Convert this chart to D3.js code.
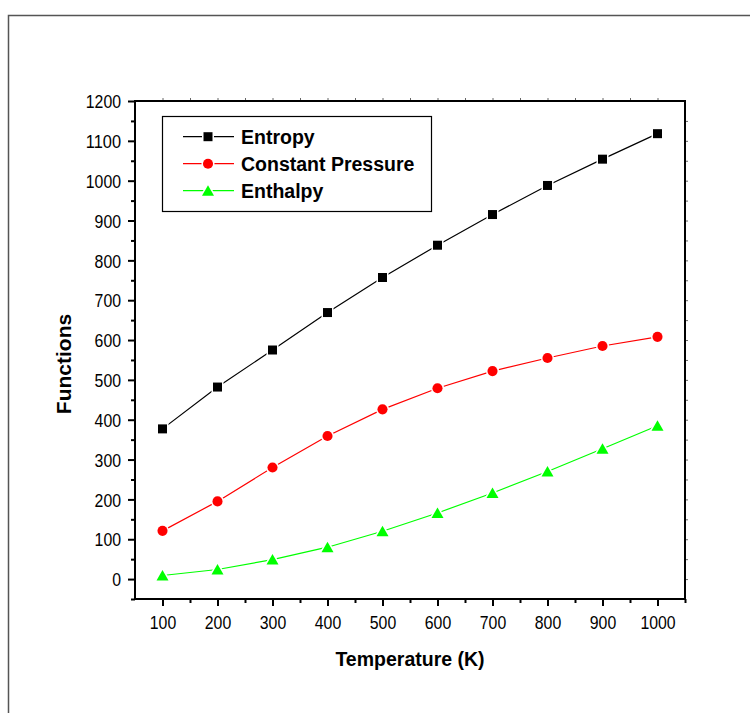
<!DOCTYPE html>
<html>
<head>
<meta charset="utf-8">
<script src="https://cdn.jsdelivr.net/npm/d3@7"></script>
<style>
  html, body { margin: 0; padding: 0; background: #fff; }
  svg { display: block; }
  .tick-label { font-family: "Liberation Sans", Arial, sans-serif; font-size: 18.5px; fill: #000; }
  .title { font-family: "Liberation Sans", Arial, sans-serif; font-weight: bold; fill: #000; }
</style>
</head>
<body>
<svg id="chart"></svg>
<script>
const SIZE = { width: 750, height: 713 }
const PLOT = { left: 135, right: 685, top: 101, bottom: 599 }

// values
const temperature = [100, 200, 300, 400, 500, 600, 700, 800, 900, 1000]
const entropy = [377, 482, 575, 669, 757, 838, 915, 988, 1054, 1118]
const constantPressure = [121, 195, 280, 359, 426, 479, 522, 555, 585, 608]
const enthalpy = [9, 24, 49, 80, 120, 166, 216, 270, 327, 385]

const seriesNames = ['Entropy', 'Constant Pressure', 'Enthalpy']
const seriesValues = [entropy, constantPressure, enthalpy]
const seriesColors = ['#000000', '#ff0000', '#00ff00']
const seriesShapes = ['square', 'circle', 'triangle']

const xTicks = d3.range(100, 1001, 100)
const xMinorTicks = d3.range(150, 1051, 100)
const yTicks = d3.range(0, 1201, 100)
const yMinorTicks = d3.range(-50, 1151, 100)

const svg = d3.select('#chart')
  .attr('width', SIZE.width)
  .attr('height', SIZE.height)

const x = d3.scaleLinear().domain([50, 1050]).range([PLOT.left, PLOT.right])
const y = d3.scaleLinear().domain([-50, 1200]).range([PLOT.bottom, PLOT.top])

// outer page frame (only top and left show inside the window)
svg.append('rect')
  .attr('x', 8.5).attr('y', 15.5)
  .attr('width', 800).attr('height', 800)
  .attr('fill', 'none')
  .attr('stroke', '#555')
  .attr('stroke-width', 1.5)

// axes
function styleAxis(g, width, color) {
  g.select('.domain').remove()
  g.selectAll('.tick line').attr('stroke', color).attr('stroke-width', width)
  g.selectAll('.tick text')
    .attr('class', 'tick-label')
    .attr('fill', '#000')
    .attr('font-size', null)
    .attr('font-family', null)
    // the reference digits are narrow, squeeze them a bit
    .attr('textLength', function () { return this.textContent.length * 8.8 })
    .attr('lengthAdjust', 'spacingAndGlyphs')
}

svg.append('g')
  .attr('transform', `translate(0,${PLOT.bottom})`)
  .call(d3.axisBottom(x).tickValues(xTicks).tickSize(7).tickPadding(10).tickFormat(d3.format('d')))
  .call(g => styleAxis(g, 2, '#000'))

svg.append('g')
  .attr('transform', `translate(0,${PLOT.bottom})`)
  .call(d3.axisBottom(x).tickValues(xMinorTicks).tickSize(4).tickFormat(''))
  .call(g => styleAxis(g, 2, '#000'))

svg.append('g')
  .attr('transform', `translate(${PLOT.left},0)`)
  .call(d3.axisLeft(y).tickValues(yTicks).tickSize(7).tickPadding(7).tickFormat(d3.format('d')))
  .call(g => styleAxis(g, 2, '#000'))
  .call(g => g.selectAll('text').attr('dy', '0.36em'))

svg.append('g')
  .attr('transform', `translate(${PLOT.left},0)`)
  .call(d3.axisLeft(y).tickValues(yMinorTicks).tickSize(4).tickFormat(''))
  .call(g => styleAxis(g, 2, '#000'))

// opposite axes: small ticks only
svg.append('g')
  .attr('transform', `translate(0,${PLOT.top})`)
  .call(d3.axisTop(x).tickValues(d3.range(100, 1050, 50)).tickSize(3).tickFormat(''))
  .call(g => styleAxis(g, 1, '#666'))

svg.append('g')
  .attr('transform', `translate(${PLOT.right},0)`)
  .call(d3.axisRight(y).tickValues(d3.range(0, 1200, 50)).tickSize(3).tickFormat(''))
  .call(g => styleAxis(g, 1, '#666'))

svg.append('rect')
  .attr('x', PLOT.left).attr('y', PLOT.top)
  .attr('width', PLOT.right - PLOT.left)
  .attr('height', PLOT.bottom - PLOT.top)
  .attr('fill', 'none')
  .attr('stroke', '#000')
  .attr('stroke-width', 2)

// axis titles
svg.append('text')
  .attr('class', 'title')
  .attr('x', (PLOT.left + PLOT.right) / 2)
  .attr('y', 666)
  .attr('text-anchor', 'middle')
  .attr('font-size', 19.5)
  .text('Temperature (K)')

svg.append('text')
  .attr('class', 'title')
  .attr('transform', 'translate(71,364) rotate(-90)')
  .attr('text-anchor', 'middle')
  .attr('font-size', 21)
  .text('Functions')

// markers
function marker(sel, shape, color) {
  let d
  if (shape === 'square') d = 'M-4.5,-4.5H4.5V4.5H-4.5Z'
  else if (shape === 'circle') d = d3.symbol(d3.symbolCircle, 80)()
  else d = 'M0,-5.5L6,5L-6,5Z'
  sel.append('path')
    .attr('d', d)
    .attr('fill', color)
    .attr('stroke', '#fff')
    .attr('stroke-width', 3)
    .attr('paint-order', 'stroke')
}

const line = d3.line()
  .x(d => x(d[0]))
  .y(d => y(d[1]))

seriesValues.forEach((values, i) => {
  const points = temperature.map((t, j) => [t, values[j]])
  const g = svg.append('g')
  g.append('path')
    .datum(points)
    .attr('d', line)
    .attr('fill', 'none')
    .attr('stroke', seriesColors[i])
    .attr('stroke-width', 1.2)
  g.selectAll('g.pt')
    .data(points)
    .join('g')
      .attr('class', 'pt')
      .attr('transform', d => `translate(${x(d[0])},${y(d[1])})`)
      .each(function () { marker(d3.select(this), seriesShapes[i], seriesColors[i]) })
})

// legend
const legend = svg.append('g').attr('transform', 'translate(162,116)')
legend.append('rect')
  .attr('x', 0.5).attr('y', 0.5)
  .attr('width', 269).attr('height', 95)
  .attr('fill', '#fff')
  .attr('stroke', '#000')
  .attr('stroke-width', 1.2)

seriesNames.forEach((name, i) => {
  const row = legend.append('g').attr('transform', `translate(0,${20.7 + i * 27})`)
  row.append('line')
    .attr('x1', 21).attr('x2', 72)
    .attr('stroke', seriesColors[i])
    .attr('stroke-width', 1.2)
  marker(row.append('g').attr('transform', 'translate(46,0)'), seriesShapes[i], seriesColors[i])
  row.append('text')
    .attr('class', 'title')
    .attr('x', 79)
    .attr('dy', '0.36em')
    .attr('font-size', 19.5)
    .text(name)
})
</script>
</body>
</html>
